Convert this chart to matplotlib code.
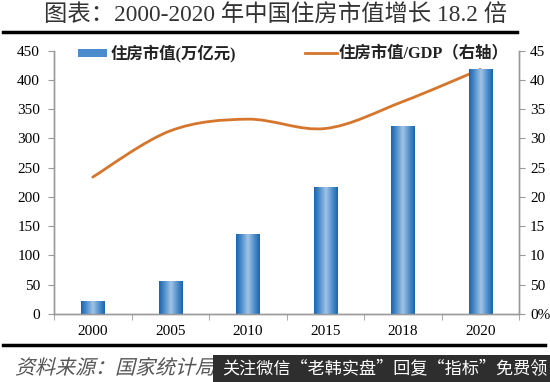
import numpy as np
import matplotlib
matplotlib.use("Agg")
import matplotlib.pyplot as plt
from matplotlib.path import Path
from matplotlib.patches import PathPatch, Rectangle
from matplotlib.lines import Line2D
from matplotlib.colors import LinearSegmentedColormap
from matplotlib.textpath import TextPath
from matplotlib.font_manager import FontProperties
from matplotlib.transforms import Affine2D

plt.rcParams['font.family'] = ['serif', 'Noto Sans CJK SC', 'DejaVu Sans']
plt.rcParams['font.serif'] = ['Liberation Serif', 'DejaVu Serif']

years = ["2000", "2005", "2010", "2015", "2018", "2020"]
market_value = [23, 57, 137, 217, 321, 419]          # 万亿元
value_to_gdp = [23.4, 31.3, 33.3, 31.7, 36.3, 41.8]   # right axis
left_ticks = [0, 50, 100, 150, 200, 250, 300, 350, 400, 450]
right_ticks = [0, 5, 10, 15, 20, 25, 30, 35, 40, 45]
right_labels = ["0%", "50", "10", "15", "20", "25", "30", "35", "40", "45"]

title = "图表：2000-2020 年中国住房市值增长 18.2 倍"
source = "资料来源：国家统计局"
watermark = "关注微信“老韩实盘”回复“指标”免费领"
bar_label = "住房市值(万亿元)"
line_label = "住房市值/GDP（右轴）"

W, H = 550, 382
fig = plt.figure(figsize=(W / 100, H / 100), dpi=100)
fig.patch.set_facecolor("white")

ax = fig.add_axes([54 / W, 1 - 314 / H, (519 - 54) / W, (314 - 50.7) / H])
ax2 = ax.twinx()

x = np.arange(len(years))
grey = "#9a9a9a"
tickfont = dict(family="Liberation Serif", size=11)

cmap = LinearSegmentedColormap.from_list(
    "barg", ["#1a66b0", "#5593ce", "#a2c4e6", "#5593ce", "#1a66b0"])
grad = np.linspace(0, 1, 64).reshape(1, -1)
bw = 0.3
bars = ax.bar(x, market_value, width=bw, color="#5a97d0", zorder=2)
for b in bars:
    im = ax.imshow(grad, extent=[b.get_x(), b.get_x() + b.get_width(), 0, b.get_height()],
                   aspect="auto", cmap=cmap, zorder=2.1)
    im.set_clip_path(b)

ax.set_xlim(-0.5, len(years) - 0.5)
ax.set_ylim(0, 450)
ax.set_yticks(left_ticks)
ax.set_yticklabels([str(t) for t in left_ticks], fontdict=tickfont)
ax.set_xticks(x)
ax.set_xticklabels(years, fontdict=tickfont)
ax.set_xticks(np.arange(-0.5, len(years), 1.0), minor=True)
ax.tick_params(axis="x", which="major", length=0, pad=8)
ax.tick_params(axis="x", which="minor", length=4, color=grey, direction="out")
ax.tick_params(axis="y", length=4, color=grey, pad=6)

ax2.set_ylim(0, 45)
ax2.set_yticks(right_ticks)
ax2.set_yticklabels(right_labels, fontdict=tickfont)
ax2.tick_params(axis="y", length=4, color=grey, pad=4)

# smooth (Excel-like) curve through the data points
px = np.array(x, dtype=float)
py = np.array(value_to_gdp, dtype=float)
verts = [(px[0], py[0])]
codes = [Path.MOVETO]
n = len(px)
for i in range(n - 1):
    p0 = (px[i - 1], py[i - 1]) if i > 0 else (px[i], py[i])
    p1 = (px[i], py[i])
    p2 = (px[i + 1], py[i + 1])
    p3 = (px[i + 2], py[i + 2]) if i + 2 < n else (px[i + 1], py[i + 1])
    t = 1 / 6
    c1 = (p1[0] + (p2[0] - p0[0]) * t, p1[1] + (p2[1] - p0[1]) * t)
    c2 = (p2[0] - (p3[0] - p1[0]) * t, p2[1] - (p3[1] - p1[1]) * t)
    verts += [c1, c2, p2]
    codes += [Path.CURVE4] * 3
orange = "#d5762c"
ax2.add_patch(PathPatch(Path(verts, codes), facecolor="none", edgecolor=orange,
                        lw=2.0, zorder=3, capstyle="round"))

for a in (ax, ax2):
    a.spines["top"].set_visible(False)
    for s in ("left", "right", "bottom"):
        a.spines[s].set_color(grey)
        a.spines[s].set_linewidth(1.0)
ax.set_zorder(ax2.get_zorder() + 1)
ax.patch.set_visible(False)
ax2.patch.set_visible(False)

# legend
cjk = ['Liberation Serif', 'Noto Sans CJK SC', 'DejaVu Sans']
fig.patches.append(Rectangle((78 / W, 1 - 57 / H), 29 / W, 8 / H,
                             transform=fig.transFigure, facecolor="#4a8ccc",
                             edgecolor="none"))
fig.text(111 / W, 1 - 53 / H, bar_label, family=cjk, fontsize=11.8,
         fontweight="bold", va="center", ha="left", color="#222222")
fig.lines.append(Line2D([305 / W, 337 / W], [1 - 53 / H, 1 - 53 / H],
                        transform=fig.transFigure, color=orange, lw=2))
fig.text(339 / W, 1 - 53 / H, line_label, family=cjk, fontsize=11.8,
         fontweight="bold", va="center", ha="left", color="#222222")

# title and rules
fig.text(276 / W, 1 - 16 / H, title, family=['Liberation Serif', 'Noto Sans CJK SC'],
         fontsize=16.8, fontweight="light", va="center", ha="center", color="#333333")
fig.lines.append(Line2D([3 / W, 517 / W], [1 - 32 / H, 1 - 32 / H],
                        transform=fig.transFigure, color="black", lw=2.5))
fig.lines.append(Line2D([3 / W, 545 / W], [1 - 345 / H, 1 - 345 / H],
                        transform=fig.transFigure, color="black", lw=2.5))

# slanted source line (CJK font has no italic, so shear the glyph outlines)
fp = FontProperties(family='Noto Sans CJK SC', weight='light')
tp = TextPath((0, 0), source, size=20, prop=fp)
tr = Affine2D().skew_deg(14, 0).translate(15, 382 - 374)
fig.patches.append(PathPatch(tr.transform_path(tp), facecolor="#555555",
                             edgecolor="none", transform=None))

fig.patches.append(Rectangle((213 / W, 0), (W - 213) / W, 27 / H,
                             transform=fig.transFigure, facecolor="#2e2e2e",
                             edgecolor="none", zorder=5))
fig.text(222 / W, 1 - 369 / H, watermark, family=['Noto Sans CJK SC'], fontsize=12.3,
         va="center", ha="left", color="white", zorder=6)

fig.savefig("out.png", dpi=100, facecolor="white")
